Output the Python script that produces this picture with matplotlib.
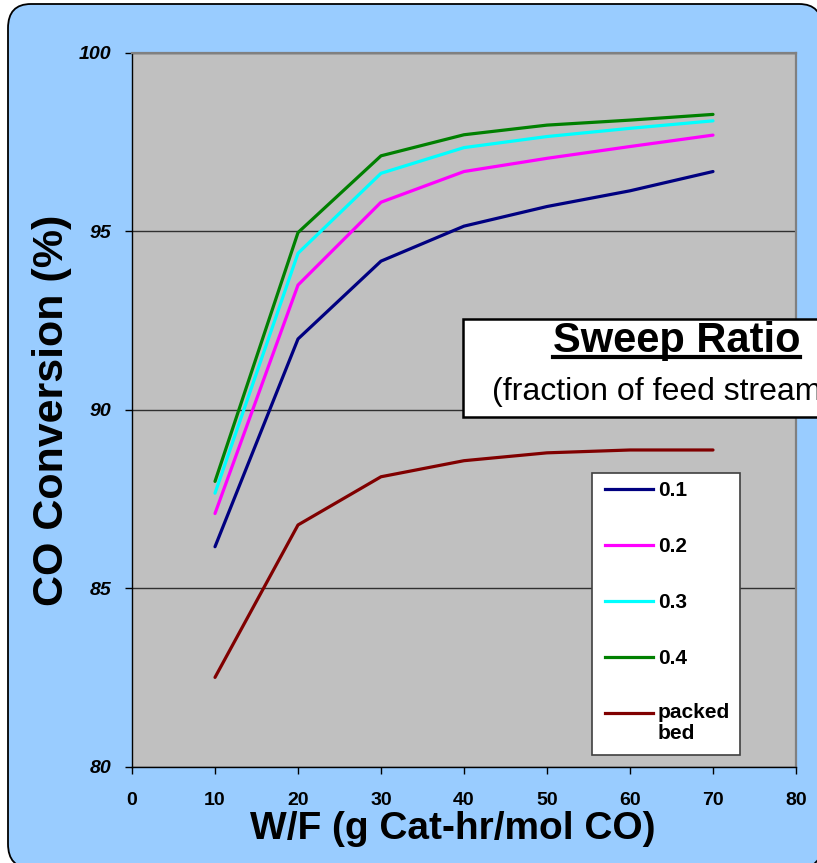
import matplotlib.pyplot as plt
from matplotlib.patches import FancyBboxPatch, Rectangle
from matplotlib.lines import Line2D

W, H = 817, 863

def fx(px):
    return px / W

def fy(py):
    return 1 - py / H

wf = [10, 20, 30, 40, 50, 60, 70]
conv_01 = [86.17, 91.99, 94.17, 95.15, 95.70, 96.14, 96.68]
conv_02 = [87.10, 93.50, 95.82, 96.68, 97.05, 97.38, 97.70]
conv_03 = [87.67, 94.39, 96.63, 97.35, 97.66, 97.89, 98.10]
conv_04 = [88.00, 94.97, 97.12, 97.71, 97.98, 98.12, 98.28]
conv_packed = [82.51, 86.78, 88.13, 88.58, 88.80, 88.88, 88.88]

labels = ['0.1', '0.2', '0.3', '0.4', 'packed\nbed']
colors = ['#000080', '#FF00FF', '#00FFFF', '#008000', '#800000']
values = [conv_01, conv_02, conv_03, conv_04, conv_packed]

plt.rcParams['font.family'] = ['Liberation Sans', 'DejaVu Sans']

fig = plt.figure(figsize=(W / 100, H / 100), dpi=100)
fig.patch.set_facecolor('white')

# rounded blue card behind everything
card = FancyBboxPatch((fx(8), fy(868)), fx(822) - fx(8), fy(4) - fy(868),
                      boxstyle='round,pad=0,rounding_size=0.028',
                      transform=fig.transFigure, facecolor='#99CCFF',
                      edgecolor='black', lw=1.3, zorder=-10)
fig.patches.append(card)

ax = fig.add_axes([fx(132), fy(767), fx(796) - fx(132), (767 - 53) / H])
ax.set_facecolor('#C0C0C0')

for lab, vals, col in zip(labels, values, colors):
    ax.plot(wf, vals, color=col, lw=2.3, label=lab, solid_capstyle='round')

ax.set_xlim(0, 80)
ax.set_ylim(80, 100)
ax.set_xticks(range(0, 81, 10))
ax.set_yticks(range(80, 101, 5))
ax.yaxis.grid(True, color='#303030', lw=1)
ax.set_axisbelow(True)

for s in ['top', 'right']:
    ax.spines[s].set_color('#808080')
    ax.spines[s].set_linewidth(1.6)
for s in ['left', 'bottom']:
    ax.spines[s].set_color('black')
    ax.spines[s].set_linewidth(1)

ax.tick_params(axis='both', direction='out', length=5, width=1)
ax.tick_params(axis='y', pad=10)
ax.tick_params(axis='x', pad=13)
for t in ax.get_yticklabels():
    t.set_fontsize(14)
    t.set_fontweight('bold')
    t.set_fontstyle('italic')
for t in ax.get_xticklabels():
    t.set_fontsize(14)
    t.set_fontweight('bold')

fig.text(fx(52), fy(410), 'CO Conversion (%)', rotation=90, ha='center',
         va='center', fontsize=31, fontweight='bold')
fig.text(fx(453), fy(839), 'W/F (g Cat-hr/mol CO)', ha='center',
         va='baseline', fontsize=28, fontweight='bold')

# "Sweep Ratio" box, runs off the right edge
fig.patches.append(Rectangle((fx(463), fy(417)), fx(860) - fx(463), (417 - 319) / H,
                             transform=fig.transFigure, facecolor='white',
                             edgecolor='black', lw=1.8, zorder=5))
sw = fig.text(fx(553), fy(352), 'Sweep Ratio', ha='left', va='baseline',
              fontsize=30, fontweight='bold', zorder=6)
fig.text(fx(492), fy(400), '(fraction of feed stream)', ha='left',
         va='baseline', fontsize=23, zorder=6)
fig.canvas.draw()
bb = sw.get_window_extent().transformed(fig.transFigure.inverted())
fig.lines.append(Line2D([bb.x0, bb.x1], [fy(357), fy(357)], transform=fig.transFigure,
                        color='black', lw=3, zorder=6))

# legend box
fig.patches.append(Rectangle((fx(592), fy(755)), fx(740) - fx(592), (755 - 473) / H,
                             transform=fig.transFigure, facecolor='white',
                             edgecolor='#404040', lw=1.2, zorder=5))
for i, (lab, col) in enumerate(zip(labels, colors)):
    yc = 489 + 56 * i
    fig.lines.append(Line2D([fx(605), fx(653)], [fy(yc), fy(yc)],
                            transform=fig.transFigure, color=col, lw=2.3, zorder=6))
    if '\n' in lab:
        fig.text(fx(658), fy(yc - 10), lab, ha='left', va='top', fontsize=15,
                 fontweight='bold', linespacing=1.15, zorder=6)
    else:
        fig.text(fx(658), fy(yc + 6.5), lab, ha='left', va='baseline', fontsize=15,
                 fontweight='bold', zorder=6)

fig.savefig('out.png', dpi=100)
